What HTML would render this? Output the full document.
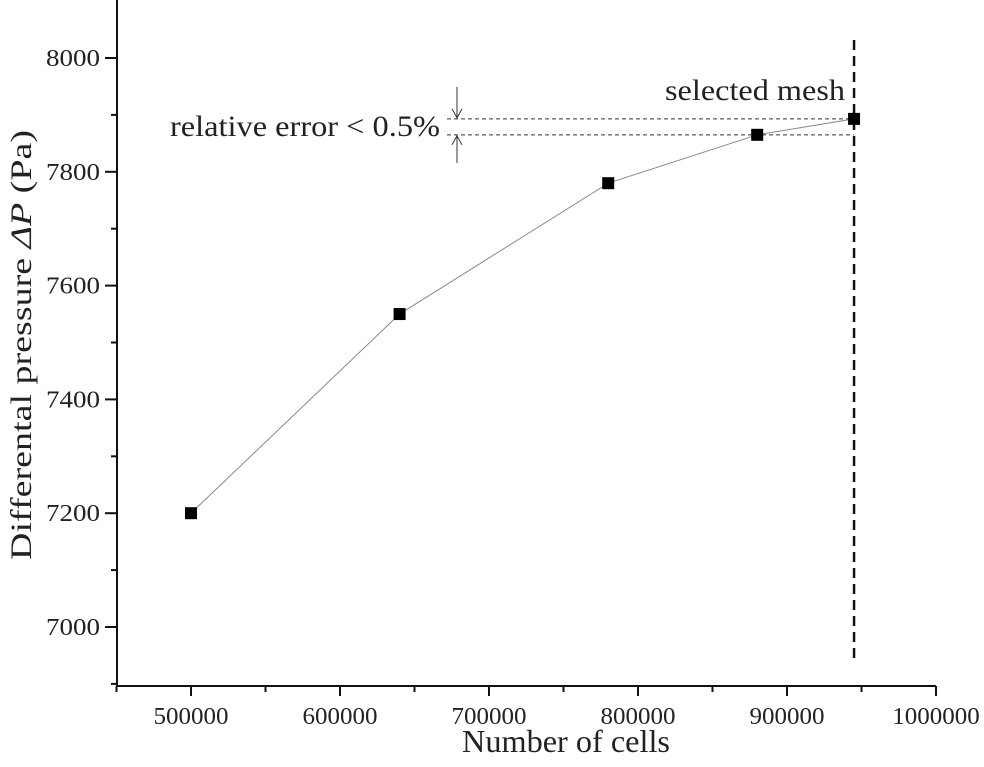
<!DOCTYPE html>
<html><head><meta charset="utf-8"><style>
html,body{margin:0;padding:0;background:#fff;}
svg text{font-family:"Liberation Serif",serif;fill:#222;}
</style></head><body>
<svg id="chart" width="984" height="762">
<g id="axes"></g><g id="marks"></g>
</svg>
<script>
const cells = [500000, 640000, 780000, 880000, 945000];
const pressures = [7200, 7550, 7780, 7865, 7893];
const xTickLabels = [500000, 600000, 700000, 800000, 900000, 1000000];
const yTickLabels = [7000, 7200, 7400, 7600, 7800, 8000];
const selectedCells = 945000;

const X0=117, X1=936, Y0=686, YT=0;
const xs = v => 191 + (v-500000)*(745/500000);
const ys = v => 627 - (v-7000)*0.569;
const NS='http://www.w3.org/2000/svg';
const axes=document.getElementById('axes'), marks=document.getElementById('marks');
function mk(tag, attrs, parent, txt){const e=document.createElementNS(NS,tag);for(const k in attrs)e.setAttribute(k,attrs[k]);if(txt!==undefined)e.textContent=txt;parent.appendChild(e);return e;}

let e;
e=mk('line',{x1:X0,y1:YT,x2:X0,y2:Y0+1,stroke:'#111','stroke-width':2},axes);


e=mk('line',{x1:X0-1,y1:Y0,x2:X1,y2:Y0,stroke:'#111','stroke-width':2},axes);



for(let v=450000; v<=1000000; v+=50000){
  const major = v%100000===0;
  mk('line',{x1:xs(v),y1:Y0,x2:xs(v),y2:Y0+(major?10:6),stroke:'#111','stroke-width':2},axes);
}
xTickLabels.forEach(v=>{
  const s=String(v);
  e=mk('text',{x:xs(v),y:724,'text-anchor':'middle','font-size':24,textLength:12.5*s.length,lengthAdjust:'spacingAndGlyphs'},axes,s);
  
  
});
for(let v=6900; v<=8300; v+=100){
  const y=ys(v); if(y<2||y>Y0) continue;
  const major = v%200===0;
  mk('line',{x1:X0,y1:y,x2:X0-(major?12:6),y2:y,stroke:'#111','stroke-width':2},axes);
}
yTickLabels.forEach(v=>{
  e=mk('text',{x:100,y:ys(v)+8,'text-anchor':'end','font-size':24,textLength:54,lengthAdjust:'spacingAndGlyphs'},axes,String(v));
  
  
});
e=mk('text',{x:566,y:752,'text-anchor':'middle','font-size':32,textLength:208,lengthAdjust:'spacingAndGlyphs'},axes,'Number of cells');


e=mk('text',{x:0,y:0,'text-anchor':'middle','font-size':30,textLength:430,lengthAdjust:'spacingAndGlyphs',transform:'translate(31,345) rotate(-90)'},axes);


e.innerHTML='Differental pressure <tspan font-style="italic">ΔP</tspan> (Pa)';

const sx=xs(selectedCells), last=pressures[pressures.length-1], prev=pressures[pressures.length-2];
e=mk('line',{x1:sx,y1:40,x2:sx,y2:662,stroke:'#111','stroke-width':2.5,'stroke-dasharray':'10,6'},marks);


[last,prev].forEach(p=>{
  e=mk('line',{x1:447,y1:ys(p),x2:sx,y2:ys(p),stroke:'#333','stroke-width':1,'stroke-dasharray':'4,3'},marks);
  
  
});
const ax=457;
e=mk('path',{d:`M${ax},${ys(last)-32}V${ys(last)-1}M${ax-5},${ys(last)-10}L${ax},${ys(last)-1}L${ax+5},${ys(last)-10}`,stroke:'#333',fill:'none','stroke-width':1},marks);


e=mk('path',{d:`M${ax},${ys(prev)+28}V${ys(prev)+1}M${ax-5},${ys(prev)+10}L${ax},${ys(prev)+1}L${ax+5},${ys(prev)+10}`,stroke:'#333',fill:'none','stroke-width':1},marks);


e=mk('text',{x:170,y:136,'font-size':30,textLength:270,lengthAdjust:'spacingAndGlyphs'},marks,'relative error < 0.5%');


e=mk('text',{x:665,y:100,'font-size':30,textLength:180,lengthAdjust:'spacingAndGlyphs'},marks,'selected mesh');



e=mk('polyline',{points:cells.map((c,i)=>xs(c)+','+ys(pressures[i])).join(' '),fill:'none',stroke:'#888','stroke-width':1},marks);


cells.forEach((c,i)=>{
  e=mk('rect',{x:xs(c)-6,y:ys(pressures[i])-6,width:12,height:12,fill:'#000'},marks);
  
  
});
</script>
</body></html>
